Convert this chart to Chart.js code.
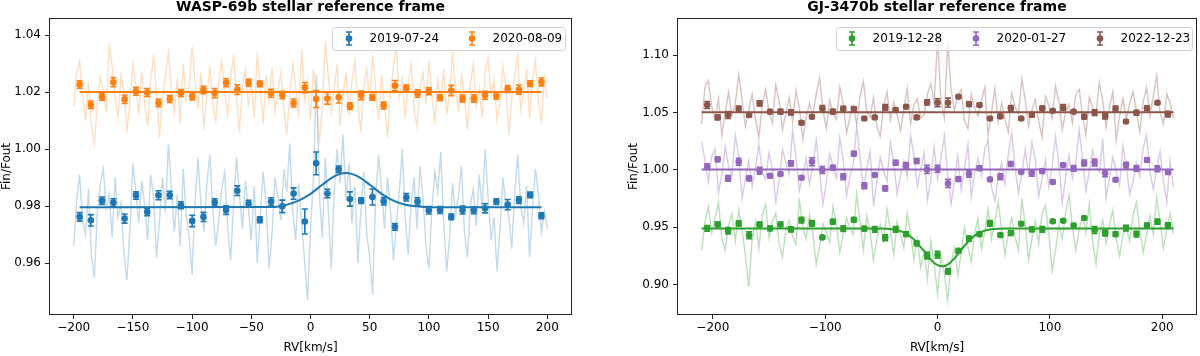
<!DOCTYPE html>
<html>
<head>
<meta charset="utf-8">
<script src="https://cdn.jsdelivr.net/npm/chart.js@4.4.1/dist/chart.umd.min.js"></script>
<style>
  body { margin: 0; background: #fff; }
  canvas { position: absolute; top: 0; }
</style>
</head>
<body>
<canvas id="left" width="600" height="356" style="left:0"></canvas>
<canvas id="right" width="600" height="356" style="left:600px"></canvas>
<script>
// ---------- WASP-69b ----------
const rvBinW = [-195.0, -185.5, -176.0, -166.5, -157.0, -147.4, -137.9, -128.4, -118.9, -109.4, -99.9, -90.4, -80.9, -71.3,
  -61.8, -52.3, -42.8, -33.3, -23.8, -14.3, -4.8, 4.8, 14.3, 23.8, 33.3, 42.8, 52.3, 61.8, 71.3, 80.9, 90.4, 99.9,
  109.4, 118.9, 128.4, 137.9, 147.4, 157.0, 166.5, 176.0, 185.5, 195.0];
const w0724 = [0.9762, 0.9750, 0.9819, 0.9812, 0.9756, 0.9837, 0.9779, 0.9838, 0.9839, 0.9803, 0.9748, 0.9762, 0.9813, 0.9786,
  0.9854, 0.9808, 0.9752, 0.9816, 0.9799, 0.9844, 0.9746, 0.9950, 0.9844, 0.9929, 0.9825, 0.9819, 0.9832, 0.9817,
  0.9727, 0.9831, 0.9816, 0.9785, 0.9786, 0.9762, 0.9786, 0.9785, 0.9792, 0.9816, 0.9805, 0.9821, 0.9839, 0.9766];
const w0724Err = [0.0015, 0.0020, 0.0013, 0.0014, 0.0016, 0.0013, 0.0013, 0.0016, 0.0013, 0.0012, 0.0020, 0.0016, 0.0013, 0.0015,
  0.0017, 0.0012, 0.0010, 0.0013, 0.0022, 0.0020, 0.0044, 0.0040, 0.0015, 0.0012, 0.0025, 0.0010, 0.0028, 0.0013,
  0.0012, 0.0013, 0.0013, 0.0013, 0.0012, 0.0010, 0.0014, 0.0012, 0.0016, 0.0010, 0.0018, 0.0012, 0.0010, 0.0010];
const w0809 = [1.0227, 1.0156, 1.0184, 1.0235, 1.0175, 1.0203, 1.0199, 1.0162, 1.0176, 1.0197, 1.0186, 1.0208, 1.0197, 1.0233,
  1.0209, 1.0233, 1.0229, 1.0196, 1.0190, 1.0162, 1.0216, 1.0176, 1.0178, 1.0182, 1.0151, 1.0189, 1.0182, 1.0153,
  1.0223, 1.0215, 1.0195, 1.0203, 1.0181, 1.0206, 1.0178, 1.0178, 1.0189, 1.0187, 1.0211, 1.0209, 1.0230, 1.0236];
const w0809Err = [0.0013, 0.0013, 0.0012, 0.0016, 0.0015, 0.0014, 0.0014, 0.0013, 0.0012, 0.0012, 0.0013, 0.0013, 0.0016, 0.0014,
  0.0017, 0.0012, 0.0010, 0.0014, 0.0013, 0.0014, 0.0018, 0.0030, 0.0020, 0.0020, 0.0012, 0.0015, 0.0010, 0.0012,
  0.0018, 0.0010, 0.0013, 0.0012, 0.0010, 0.0018, 0.0012, 0.0013, 0.0014, 0.0012, 0.0012, 0.0016, 0.0010, 0.0014];

const rvRawW = [-200, -197.5, -195, -192.5, -190, -187.5, -185, -182.5, -180, -177.5,
  -175, -172.5, -170, -167.5, -165, -162.5, -160, -157.5, -155, -152.5,
  -150, -147.5, -145, -142.5, -140, -137.5, -135, -132.5, -130, -127.5,
  -125, -122.5, -120, -117.5, -115, -112.5, -110, -107.5, -105, -102.5,
  -100, -97.5, -95, -92.5, -90, -87.5, -85, -82.5, -80, -77.5,
  -75, -72.5, -70, -67.5, -65, -62.5, -60, -57.5, -55, -52.5,
  -50, -47.5, -45, -42.5, -40, -37.5, -35, -32.5, -30, -27.5,
  -25, -22.5, -20, -17.5, -15, -12.5, -10, -7.5, -5, -2.5,
  0, 2.5, 5, 7.5, 10, 12.5, 15, 17.5, 20, 22.5,
  25, 27.5, 30, 32.5, 35, 37.5, 40, 42.5, 45, 47.5,
  50, 52.5, 55, 57.5, 60, 62.5, 65, 67.5, 70, 72.5,
  75, 77.5, 80, 82.5, 85, 87.5, 90, 92.5, 95, 97.5,
  100, 102.5, 105, 107.5, 110, 112.5, 115, 117.5, 120, 122.5,
  125, 127.5, 130, 132.5, 135, 137.5, 140, 142.5, 145, 147.5,
  150, 152.5, 155, 157.5, 160, 162.5, 165, 167.5, 170, 172.5,
  175, 177.5, 180, 182.5, 185, 187.5, 190, 192.5, 195, 197.5, 200];
const w0724Raw = [0.966, 0.982, 0.991, 0.975, 0.970, 0.986, 0.962, 0.955, 0.978, 0.988,
  0.993, 0.979, 0.984, 0.969, 0.990, 0.976, 0.981, 0.963, 0.954, 0.972,
  0.995, 0.985, 0.974, 0.989, 0.980, 0.968, 0.991, 0.983, 0.962, 0.975,
  0.990, 0.978, 1.002, 0.986, 0.971, 0.984, 0.966, 0.993, 0.977, 0.969,
  0.956, 0.982, 0.997, 0.980, 0.971, 0.988, 0.998, 0.979, 0.966, 0.975,
  0.986, 0.992, 0.973, 0.961, 0.980, 0.997, 0.984, 0.972, 0.989, 0.979,
  0.968, 0.987, 0.960, 0.976, 0.992, 0.981, 0.958, 0.970, 0.990, 0.983,
  0.975, 0.993, 0.985, 1.002, 0.978, 0.968, 0.988, 0.974, 0.961, 0.947,
  0.972, 0.990, 1.026, 0.984, 0.969, 0.997, 0.979, 0.958, 0.985, 1.000,
  0.988, 1.005, 0.982, 0.995, 0.974, 0.987, 0.960, 0.978, 0.992, 0.970,
  0.962, 0.949, 0.983, 0.998, 0.986, 0.972, 0.990, 0.979, 0.961, 0.974,
  0.985, 1.000, 0.976, 0.963, 0.981, 0.990, 0.972, 0.994, 0.983, 0.966,
  0.958, 0.979, 0.992, 0.985, 0.999, 0.974, 0.957, 0.969, 0.988, 0.977,
  0.984, 0.994, 0.971, 0.962, 0.980, 0.986, 0.973, 0.991, 0.979, 1.000,
  0.983, 0.968, 0.976, 0.957, 0.972, 0.990, 0.981, 0.976, 0.965, 0.985,
  0.998, 0.980, 0.974, 0.987, 0.962, 0.979, 0.993, 0.984, 0.971, 0.978, 0.972];
const w0809Raw = [1.015, 1.027, 1.031, 1.019, 1.010, 1.024, 1.008, 1.002, 1.016, 1.025,
  1.021, 1.013, 1.037, 1.029, 1.018, 1.011, 1.026, 1.020, 1.006, 1.017,
  1.030, 1.022, 1.012, 1.027, 1.016, 1.008, 1.024, 1.033, 1.019, 1.004,
  1.018, 1.026, 1.034, 1.021, 1.013, 1.025, 1.009, 1.030, 1.017, 1.022,
  1.036, 1.024, 1.014, 1.027, 1.007, 1.019, 1.029, 1.016, 1.010, 1.023,
  1.031, 1.020, 1.012, 1.025, 1.033, 1.018, 1.006, 1.022, 1.028, 1.015,
  1.024, 1.011, 1.034, 1.021, 1.009, 1.026, 1.017, 1.029, 1.013, 1.020,
  1.027, 1.014, 1.005, 1.019, 1.030, 1.022, 1.011, 1.035, 1.016, 1.024,
  1.010, 1.028, 1.019, 1.002, 1.015, 1.038, 1.026, 1.013, 1.021, 1.030,
  1.008, 1.019, 1.027, 1.012, 1.024, 1.031, 1.016, 1.006, 1.022, 1.028,
  1.017, 1.033, 1.021, 1.010, 1.026, 1.015, 1.004, 1.020, 1.029, 1.036,
  1.018, 1.025, 1.011, 1.023, 1.030, 1.014, 1.008, 1.021, 1.027, 1.016,
  1.031, 1.019, 1.009, 1.024, 1.017, 1.028, 1.012, 1.020, 1.034, 1.022,
  1.013, 1.026, 1.018, 1.007, 1.023, 1.030, 1.015, 1.021, 1.011, 1.027,
  1.032, 1.019, 1.024, 1.010, 1.016, 1.029, 1.022, 1.005, 1.018, 1.026,
  1.033, 1.014, 1.020, 1.028, 1.011, 1.024, 1.031, 1.017, 1.009, 1.025, 1.018];

const rvModelW0724 = [-195, -30, -20, -10, 0, 10, 20, 30, 40, 50, 60, 70, 80, 90, 100, 195];
const w0724Model = [0.9796, 0.9797, 0.9805, 0.9819, 0.9843, 0.9875, 0.9904, 0.9916, 0.9904, 0.9875, 0.9843, 0.9819,
  0.9805, 0.9799, 0.9796, 0.9796];
const rvModelW0809 = [-195, 195];
const w0809Model = [1.0201, 1.0201];

// ---------- GJ-3470b ----------
const rvBinG = [-205.0, -195.7, -186.4, -177.0, -167.7, -158.4, -149.1, -139.8, -130.5, -121.1, -111.8, -102.5, -93.2,
  -83.9, -74.5, -65.2, -55.9, -46.6, -37.3, -28.0, -18.6, -9.3, 0.0, 9.3, 18.6, 28.0, 37.3, 46.6, 55.9, 65.2, 74.5,
  83.9, 93.2, 102.5, 111.8, 121.1, 130.5, 139.8, 149.1, 158.4, 167.7, 177.0, 186.4, 195.7, 205.0];
const g1228 = [0.9491, 0.9525, 0.9470, 0.9534, 0.9430, 0.9525, 0.9491, 0.9525, 0.9482, 0.9563, 0.9534, 0.9412, 0.9549,
  0.9488, 0.9566, 0.9488, 0.9482, 0.9409, 0.9482, 0.9441, 0.9360, 0.9255, 0.9261, 0.9116, 0.9296, 0.9401, 0.9441,
  0.9534, 0.9432, 0.9450, 0.9531, 0.9482, 0.9482, 0.9552, 0.9557, 0.9514, 0.9581, 0.9476, 0.9450, 0.9441, 0.9493,
  0.9441, 0.9514, 0.9549, 0.9520];
const g1228Err = [0.0025, 0.0020, 0.0028, 0.0022, 0.0030, 0.0020, 0.0020, 0.0020, 0.0022, 0.0025, 0.0025, 0.0012, 0.0020,
  0.0025, 0.0020, 0.0020, 0.0025, 0.0025, 0.0025, 0.0020, 0.0020, 0.0030, 0.0030, 0.0025, 0.0020, 0.0022, 0.0020,
  0.0025, 0.0015, 0.0020, 0.0015, 0.0020, 0.0025, 0.0012, 0.0012, 0.0020, 0.0012, 0.0030, 0.0025, 0.0020, 0.0025,
  0.0025, 0.0022, 0.0022, 0.0020];
const g0127 = [1.0028, 1.0091, 0.9926, 1.0071, 0.9926, 0.9993, 0.9949, 0.9964, 1.0057, 0.9932, 1.0071, 0.9999, 1.0019,
  0.9940, 1.0141, 0.9862, 0.9955, 0.9839, 1.0062, 1.0039, 1.0077, 1.0004, 1.0010, 0.9882, 0.9920, 0.9967, 1.0016,
  0.9917, 0.9940, 1.0051, 0.9981, 0.9970, 0.9990, 0.9894, 1.0042, 1.0013, 1.0060, 1.0065, 0.9970, 0.9914, 1.0042,
  1.0013, 1.0086, 1.0010, 0.9981];
const g0127Err = [0.0025, 0.0020, 0.0025, 0.0030, 0.0020, 0.0030, 0.0018, 0.0015, 0.0022, 0.0015, 0.0035, 0.0030, 0.0020,
  0.0025, 0.0020, 0.0025, 0.0015, 0.0022, 0.0022, 0.0025, 0.0022, 0.0035, 0.0030, 0.0035, 0.0020, 0.0030, 0.0020,
  0.0015, 0.0025, 0.0022, 0.0012, 0.0025, 0.0020, 0.0015, 0.0015, 0.0025, 0.0025, 0.0030, 0.0030, 0.0015, 0.0025,
  0.0025, 0.0020, 0.0025, 0.0020];
const g1223 = [1.0565, 1.0457, 1.0478, 1.0530, 1.0478, 1.0579, 1.0507, 1.0507, 1.0501, 1.0411, 1.0463, 1.0536, 1.0507,
  1.0533, 1.0530, 1.0448, 1.0457, 1.0544, 1.0521, 1.0550, 1.0457, 1.0588, 1.0585, 1.0585, 1.0637, 1.0573, 1.0565,
  1.0448, 1.0466, 1.0536, 1.0448, 1.0480, 1.0536, 1.0515, 1.0544, 1.0507, 1.0463, 1.0498, 1.0469, 1.0533, 1.0422,
  1.0498, 1.0536, 1.0585, 1.0486];
const g1223Err = [0.0030, 0.0020, 0.0030, 0.0025, 0.0015, 0.0022, 0.0015, 0.0020, 0.0022, 0.0015, 0.0015, 0.0025, 0.0020,
  0.0020, 0.0020, 0.0015, 0.0012, 0.0025, 0.0015, 0.0015, 0.0015, 0.0022, 0.0035, 0.0040, 0.0012, 0.0020, 0.0015,
  0.0015, 0.0015, 0.0025, 0.0015, 0.0020, 0.0020, 0.0012, 0.0025, 0.0008, 0.0020, 0.0025, 0.0025, 0.0022, 0.0015,
  0.0022, 0.0020, 0.0012, 0.0025];

const rvRawG = [-210, -207, -204, -201, -198, -195, -192, -189, -186, -183,
  -180, -177, -174, -171, -168, -165, -162, -159, -156, -153,
  -150, -147, -144, -141, -138, -135, -132, -129, -126, -123,
  -120, -117, -114, -111, -108, -105, -102, -99, -96, -93,
  -90, -87, -84, -81, -78, -75, -72, -69, -66, -63,
  -60, -57, -54, -51, -48, -45, -42, -39, -36, -33,
  -30, -27, -24, -21, -18, -15, -12, -9, -6, -3,
  0, 3, 6, 9, 12, 15, 18, 21, 24, 27,
  30, 33, 36, 39, 42, 45, 48, 51, 54, 57,
  60, 63, 66, 69, 72, 75, 78, 81, 84, 87,
  90, 93, 96, 99, 102, 105, 108, 111, 114, 117,
  120, 123, 126, 129, 132, 135, 138, 141, 144, 147,
  150, 153, 156, 159, 162, 165, 168, 171, 174, 177,
  180, 183, 186, 189, 192, 195, 198, 201, 204, 207, 210];
const g1223Raw = [1.040, 1.072, 1.078, 1.055, 1.044, 1.062, 1.030, 1.050, 1.068, 1.047,
  1.058, 1.083, 1.061, 1.038, 1.052, 1.066, 1.044, 1.028, 1.057, 1.070,
  1.050, 1.041, 1.074, 1.060, 1.035, 1.049, 1.063, 1.042, 1.069, 1.054,
  1.027, 1.045, 1.058, 1.047, 1.066, 1.080, 1.052, 1.036, 1.061, 1.049,
  1.044, 1.072, 1.058, 1.032, 1.046, 1.056, 1.040, 1.064, 1.077, 1.051,
  1.046, 1.063, 1.038, 1.029, 1.055, 1.068, 1.043, 1.059, 1.049, 1.034,
  1.052, 1.071, 1.040, 1.057, 1.062, 1.045, 1.048, 1.066, 1.075, 1.058,
  1.116, 1.060, 1.045, 1.112, 1.070, 1.052, 1.064, 1.070, 1.043, 1.036,
  1.066, 1.054, 1.047, 1.060, 1.072, 1.030, 1.050, 1.071, 1.042, 1.058,
  1.044, 1.033, 1.067, 1.055, 1.049, 1.079, 1.061, 1.038, 1.052, 1.061,
  1.043, 1.028, 1.064, 1.056, 1.045, 1.073, 1.059, 1.035, 1.050, 1.057,
  1.041, 1.065, 1.070, 1.048, 1.030, 1.063, 1.055, 1.048, 1.076, 1.060,
  1.037, 1.055, 1.068, 1.026, 1.047, 1.062, 1.044, 1.058, 1.068, 1.051,
  1.033, 1.059, 1.072, 1.047, 1.064, 1.082, 1.050, 1.040, 1.066, 1.058, 1.045];
const g0127Raw = [1.025, 1.008, 0.990, 1.012, 1.018, 0.980, 0.996, 1.020, 1.003, 0.995,
  1.030, 1.012, 0.975, 0.992, 1.008, 0.985, 1.003, 1.022, 0.998, 0.992,
  1.015, 1.001, 0.972, 0.990, 1.018, 1.006, 0.996, 1.034, 1.011, 0.982,
  0.995, 1.010, 0.988, 1.004, 1.026, 0.998, 0.970, 0.989, 1.014, 1.002,
  0.993, 1.028, 1.009, 0.978, 0.994, 1.005, 1.038, 1.012, 0.984, 1.001,
  1.016, 0.968, 0.990, 1.011, 0.999, 0.990, 1.024, 1.006, 0.979, 0.995,
  1.008, 0.994, 1.030, 1.012, 0.986, 1.000, 1.015, 0.974, 0.992, 1.020,
  0.992, 1.010, 1.030, 0.996, 0.970, 0.990, 1.012, 0.983, 1.001, 1.022,
  0.976, 0.997, 1.010, 0.995, 1.018, 1.026, 0.985, 0.973, 0.994, 1.006,
  0.988, 1.014, 1.032, 1.002, 0.980, 0.996, 1.018, 0.996, 1.024, 1.009,
  0.977, 0.992, 1.009, 0.985, 1.003, 1.029, 1.006, 0.971, 0.994, 1.013,
  0.992, 1.007, 1.035, 1.010, 0.982, 0.999, 1.017, 1.004, 0.998, 1.027,
  0.975, 0.993, 1.011, 0.999, 0.987, 1.021, 1.003, 0.979, 0.990, 1.006,
  0.994, 1.019, 1.030, 0.998, 0.983, 1.001, 1.016, 0.990, 0.972, 1.008, 0.985];
const g1228Raw = [0.930, 0.955, 0.968, 0.945, 0.958, 0.972, 0.940, 0.930, 0.952, 0.962,
  0.938, 0.965, 0.948, 0.925, 0.898, 0.940, 0.955, 0.932, 0.961, 0.970,
  0.941, 0.955, 0.962, 0.936, 0.924, 0.948, 0.956, 0.942, 0.935, 0.975,
  0.950, 0.940, 0.961, 0.945, 0.918, 0.933, 0.953, 0.946, 0.937, 0.968,
  0.952, 0.928, 0.944, 0.958, 0.949, 0.944, 0.979, 0.955, 0.930, 0.960,
  0.946, 0.921, 0.940, 0.952, 0.938, 0.966, 0.948, 0.926, 0.955, 0.944,
  0.932, 0.962, 0.945, 0.922, 0.940, 0.915, 0.930, 0.905, 0.938, 0.918,
  0.892, 0.925, 0.910, 0.886, 0.920, 0.932, 0.908, 0.928, 0.950, 0.933,
  0.920, 0.945, 0.958, 0.931, 0.946, 0.966, 0.940, 0.955, 0.972, 0.948,
  0.926, 0.945, 0.958, 0.942, 0.930, 0.975, 0.952, 0.922, 0.940, 0.955,
  0.936, 0.962, 0.969, 0.945, 0.912, 0.930, 0.952, 0.940, 0.963, 0.978,
  0.950, 0.930, 0.948, 0.960, 0.945, 0.970, 0.938, 0.918, 0.944, 0.956,
  0.936, 0.952, 0.965, 0.940, 0.925, 0.943, 0.950, 0.938, 0.961, 0.972,
  0.948, 0.928, 0.944, 0.960, 0.944, 0.976, 0.955, 0.932, 0.948, 0.962, 0.945];

const rvModelG1228 = [-210, -60, -50, -45, -40, -35, -30, -25, -20, -15, -10, -5, 0, 5, 10, 15, 20, 25, 30, 35, 40, 45, 50,
  60, 210];
const g1228Model = [0.9490, 0.9490, 0.9489, 0.9487, 0.9482, 0.9473, 0.9455, 0.9426, 0.9385, 0.9327, 0.9270, 0.9208, 0.9170,
  0.9160, 0.9182, 0.9230, 0.9290, 0.9350, 0.9402, 0.9440, 0.9464, 0.9478, 0.9485, 0.9490, 0.9490];
const rvModelGFlat = [-210, 210];
const g0127Model = [1.0004, 1.0004];
const g1223Model = [1.0501, 1.0501];

// axis ticks
const xTicksW = [-200, -150, -100, -50, 0, 50, 100, 150, 200];
const yTicksW = [0.96, 0.98, 1.00, 1.02, 1.04];
const xTicksG = [-200, -100, 0, 100, 200];
const yTicksG = [0.90, 0.95, 1.00, 1.05, 1.10];

const C = {
  blue: '#1f77b4', orange: '#ff7f0e', green: '#2ca02c', purple: '#9467bd', brown: '#8c564b'
};
const FONT = 'DejaVu Sans';
Chart.defaults.font.family = FONT;
Chart.defaults.color = '#000';

const pts = (xs, ys) => xs.map((x, i) => ({ x: x, y: ys[i] }));
function rgba(hex, a) {
  const n = parseInt(hex.slice(1), 16);
  return `rgba(${n >> 16},${(n >> 8) & 255},${n & 255},${a})`;
}
const rawSet = (xs, ys, col, a) => ({
  data: pts(xs, ys), showLine: true, borderColor: rgba(col, a), borderWidth: 1.4, pointRadius: 0, order: 3
});
const modelSet = (xs, ys, col) => ({
  data: pts(xs, ys), showLine: true, borderColor: col, borderWidth: 2, pointRadius: 0,
  cubicInterpolationMode: 'monotone', order: 2
});
const binSet = (label, xs, ys, err, col) => ({
  label: label, data: pts(xs, ys), errors: err, borderColor: col, backgroundColor: col,
  pointRadius: 3.3, pointBorderWidth: 0, pointBackgroundColor: col, showLine: false, order: 1
});

function drawErrGlyph(ctx, x, y0, y1, col, half) {
  ctx.strokeStyle = col;
  ctx.lineWidth = 1.6;
  ctx.beginPath();
  ctx.moveTo(x, y0); ctx.lineTo(x, y1);
  ctx.moveTo(x - half, y0); ctx.lineTo(x + half, y0);
  ctx.moveTo(x - half, y1); ctx.lineTo(x + half, y1);
  ctx.stroke();
}

// error bars drawn through the chart scales
const errorBars = {
  id: 'errorBars',
  afterDatasetDraw(chart, args) {
    const ds = chart.data.datasets[args.index];
    if (!ds.errors) return;
    const { ctx, scales: { x, y } } = chart;
    ctx.save();
    ds.data.forEach((p, i) => {
      const px = x.getPixelForValue(p.x);
      drawErrGlyph(ctx, px, y.getPixelForValue(p.y - ds.errors[i]), y.getPixelForValue(p.y + ds.errors[i]), ds.borderColor, 3);
    });
    ctx.restore();
  }
};

// frame, title and matplotlib-style legend
const decor = {
  id: 'decor',
  afterDraw(chart, args, opts) {
    const { ctx, chartArea: a } = chart;
    ctx.save();
    ctx.strokeStyle = '#222';
    ctx.lineWidth = 1;
    ctx.strokeRect(Math.round(a.left) - 0.5, Math.round(a.top) - 0.5, Math.round(a.right - a.left) + 1, Math.round(a.bottom - a.top) + 1);

    ctx.fillStyle = '#000';
    ctx.font = 'bold 14px ' + FONT;
    ctx.textAlign = 'center';
    ctx.textBaseline = 'middle';
    ctx.fillText(opts.title, (a.left + a.right) / 2, 7);

    const [bx0, by0, bx1, by1] = opts.box;
    ctx.beginPath();
    ctx.roundRect(bx0 + 0.5, by0 + 0.5, bx1 - bx0, by1 - by0, 3);
    ctx.fillStyle = 'rgba(255,255,255,0.8)';
    ctx.fill();
    ctx.strokeStyle = '#d0d0d0';
    ctx.stroke();

    const items = chart.data.datasets.filter(d => d.errors);
    const yc = (by0 + by1) / 2;
    ctx.font = '12px ' + FONT;
    ctx.textAlign = 'left';
    items.forEach((d, i) => {
      const mx = opts.markerX[i];
      drawErrGlyph(ctx, mx, yc - 6.5, yc + 6.5, d.borderColor, 3);
      ctx.beginPath();
      ctx.arc(mx, yc, 3.3, 0, Math.PI * 2);
      ctx.fillStyle = d.borderColor;
      ctx.fill();
      ctx.fillStyle = '#000';
      ctx.fillText(d.label, mx + 20.5, yc + 0.5);
    });
    ctx.restore();
  }
};

function axis(min, max, ticks, fmt, title, isX, fitSize, titlePad) {
  return {
    type: 'linear', min: min, max: max,
    afterBuildTicks: s => { s.ticks = ticks.map(v => ({ value: v })); },
    afterFit: s => { if (isX) s.height = fitSize; else s.width = fitSize; },
    ticks: { font: { size: 12 }, color: '#000', padding: isX ? 2 : 4, maxRotation: 0, autoSkip: false, callback: fmt },
    grid: { display: true, drawOnChartArea: false, drawTicks: true, tickLength: 5, color: '#222', lineWidth: 1 },
    border: { display: false },
    title: { display: true, text: title, font: { size: 12 }, color: '#000', padding: titlePad }
  };
}
const fmtX = v => v < 0 ? '\u2212' + Math.abs(v) : String(v);
const fmtY = v => v.toFixed(2);

new Chart(document.getElementById('left'), {
  type: 'scatter',
  data: {
    datasets: [
      rawSet(rvRawW, w0724Raw, C.blue, 0.27),
      rawSet(rvRawW, w0809Raw, C.orange, 0.25),
      modelSet(rvModelW0724, w0724Model, C.blue),
      modelSet(rvModelW0809, w0809Model, C.orange),
      binSet('2019-07-24', rvBinW, w0724, w0724Err, C.blue),
      binSet('2020-08-09', rvBinW, w0809, w0809Err, C.orange)
    ]
  },
  options: {
    responsive: false, animation: false, devicePixelRatio: 1,
    layout: { padding: { left: 0, top: 19, right: 29, bottom: 0 } },
    scales: {
      x: axis(-220, 220, xTicksW, fmtX, 'RV[km/s]', true, 42, { top: 0, bottom: 1 }),
      y: axis(0.9421, 1.0457, yTicksW, fmtY, 'Fin/Fout', false, 50, { top: 0, bottom: 0 })
    },
    plugins: {
      legend: { display: false }, tooltip: { enabled: false },
      decor: { title: 'WASP-69b stellar reference frame', box: [332, 27, 565, 50], markerX: [349, 472] }
    }
  },
  plugins: [errorBars, decor]
});

new Chart(document.getElementById('right'), {
  type: 'scatter',
  data: {
    datasets: [
      rawSet(rvRawG, g1228Raw, C.green, 0.32),
      rawSet(rvRawG, g0127Raw, C.purple, 0.35),
      rawSet(rvRawG, g1223Raw, C.brown, 0.35),
      modelSet(rvModelG1228, g1228Model, C.green),
      modelSet(rvModelGFlat, g0127Model, C.purple),
      modelSet(rvModelGFlat, g1223Model, C.brown),
      binSet('2019-12-28', rvBinG, g1228, g1228Err, C.green),
      binSet('2020-01-27', rvBinG, g0127, g0127Err, C.purple),
      binSet('2022-12-23', rvBinG, g1223, g1223Err, C.brown)
    ]
  },
  options: {
    responsive: false, animation: false, devicePixelRatio: 1,
    layout: { padding: { left: 0, top: 19, right: 2, bottom: 0 } },
    scales: {
      x: axis(-231, 230, xTicksG, fmtX, 'RV[km/s]', true, 42, { top: 0, bottom: 1 }),
      y: axis(0.8745, 1.1314, yTicksG, fmtY, 'Fin/Fout', false, 78, { top: 27, bottom: 0 })
    },
    plugins: {
      legend: { display: false }, tooltip: { enabled: false },
      decor: { title: 'GJ-3470b stellar reference frame', box: [236, 27, 592, 50], markerX: [252, 376, 500] }
    }
  },
  plugins: [errorBars, decor]
});
</script>
</body>
</html>
